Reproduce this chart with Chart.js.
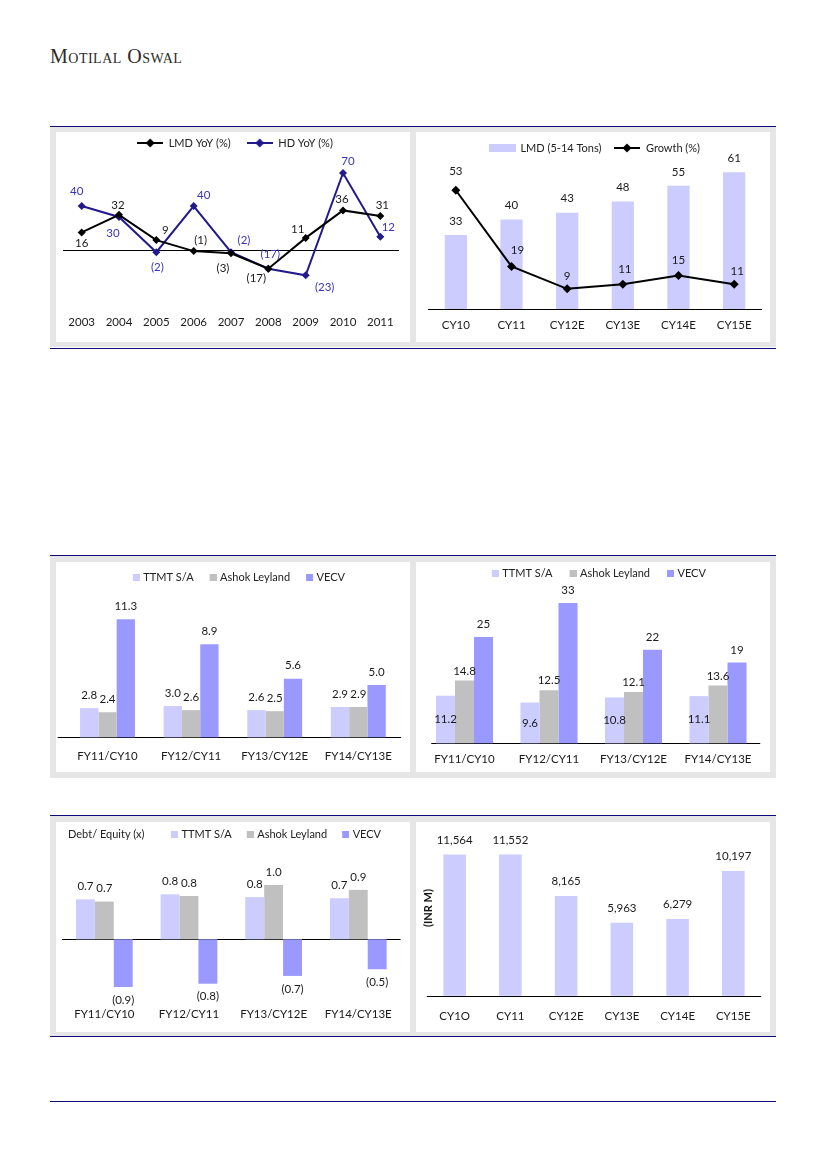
<!DOCTYPE html>
<html><head><meta charset="utf-8">
<script src="https://cdn.jsdelivr.net/npm/chart.js@4.4.1/dist/chart.umd.min.js"></script>
<style>
html,body{margin:0;padding:0;background:#fff;}
body{width:826px;height:1169px;position:relative;overflow:hidden;font-family:Lato,"Open Sans",sans-serif;}
.rule{position:absolute;left:50px;width:726px;height:1px;background:#0d0b7a;}
.panel{position:absolute;left:50px;width:726px;background:#e6e6e6;}
.box{position:absolute;background:#fff;width:354px;height:210px;}
canvas{position:absolute;}
.hdr{position:absolute;left:50px;top:46px;font-family:"Liberation Serif",serif;font-variant:small-caps;font-size:20px;line-height:20px;letter-spacing:0.5px;color:#2b2b2b;white-space:nowrap;}
.note{position:absolute;font-family:Lato,sans-serif;color:#222;white-space:nowrap;}
</style></head><body>
<div class="hdr">Motilal Oswal</div>

<div class="rule" style="top:126px"></div>
<div class="panel" style="top:127px;height:220px"></div>
<div class="box" style="left:56px;top:132px"></div>
<div class="box" style="left:416px;top:132px"></div>
<div class="rule" style="top:348px"></div>

<div class="rule" style="top:555px"></div>
<div class="panel" style="top:556px;height:222px"></div>
<div class="box" style="left:56px;top:562px"></div>
<div class="box" style="left:416px;top:562px"></div>

<div class="rule" style="top:815px"></div>
<div class="panel" style="top:816px;height:220px"></div>
<div class="box" style="left:56px;top:822px"></div>
<div class="box" style="left:416px;top:822px"></div>
<div class="rule" style="top:1036px"></div>

<div class="rule" style="top:1101px"></div>

<canvas id="c1" width="354" height="210" style="left:56px;top:132px"></canvas>
<canvas id="c2" width="354" height="210" style="left:416px;top:132px"></canvas>
<canvas id="c3" width="354" height="210" style="left:56px;top:562px"></canvas>
<canvas id="c4" width="354" height="210" style="left:416px;top:562px"></canvas>
<canvas id="c5" width="354" height="210" style="left:56px;top:822px"></canvas>
<canvas id="c6" width="354" height="210" style="left:416px;top:822px"></canvas>

<div class="note" style="left:68px;top:827px;font-size:11px;line-height:14px;">Debt/ Equity (x)</div>
<div class="note" style="left:428px;top:908px;font-size:11px;line-height:14px;font-weight:bold;color:#111;transform:translate(-50%,-50%) rotate(-90deg);">(INR M)</div>

<script>
// ---------------- DATA ----------------
const yearCats = ['2003','2004','2005','2006','2007','2008','2009','2010','2011'];
const lmdYoY = [16, 32, 9, -1, -3, -17, 11, 36, 31];
const hdYoY = [40, 30, -2, 40, -2, -17, -23, 70, 12];

const cyCats = ['CY10','CY11','CY12E','CY13E','CY14E','CY15E'];
const lmdVolume = [33, 40, 43, 48, 55, 61];
const lmdGrowth = [53, 19, 9, 11, 15, 11];

const fyCats = ['FY11/CY10','FY12/CY11','FY13/CY12E','FY14/CY13E'];
const c3TTMT = [2.8, 3.0, 2.6, 2.9];
const c3Ashok = [2.4, 2.6, 2.5, 2.9];
const c3VECV = [11.3, 8.9, 5.6, 5.0];

const c4TTMT = [11.2, 9.6, 10.8, 11.1];
const c4Ashok = [14.8, 12.5, 12.1, 13.6];
const c4VECV = [25, 33, 22, 19];

const deTTMT = [0.72, 0.81, 0.76, 0.74];
const deAshok = [0.68, 0.78, 0.98, 0.89];
const deVECV = [-0.86, -0.80, -0.66, -0.54];

const inrCats = ['CY1O','CY11','CY12E','CY13E','CY14E','CY15E'];
const inrValues = [11564, 11552, 8165, 5963, 6279, 10197];

// label offsets (layout only)
const lmdLblDx = [0, -1, 9, 7, -8, -12, -8, -1, 2];
const lmdLblDy = [11, -10, -10, -11, 15, 10, -9, -11, -11];
const hdLblDx = [-5, -6, 1, 10, 13, 2, 19, 5, 8];
const hdLblDy = [-15, 16, 15, -11, -12, -14, 12, -12, -10];
const growthLblDx = [0, 6, 0, 2, 0, 3];
const growthLblDy = [-19, -16, -13, -15, -15, -13];

// ---------------- STYLE ----------------
const C_TTMT = '#ccccff', C_ASHOK = '#c0c0c0', C_VECV = '#9999ff';
const C_HD = '#221a8c', C_HD_LBL = '#3a33b8';
const LBL_FONT = '11.5px Lato, "Open Sans", sans-serif';
Chart.defaults.font.family = 'Lato, "Open Sans", sans-serif';
Chart.defaults.color = '#1a1a1a';

const fmtParen = v => v < 0 ? '(' + Math.abs(v) + ')' : String(v);
const fmt1 = v => v < 0 ? '(' + Math.abs(v).toFixed(1) + ')' : v.toFixed(1);
const fmtComma = v => v.toLocaleString('en-US');

function lineMarkerImg(color) {
  const c = document.createElement('canvas'); c.width = 26; c.height = 10;
  const g = c.getContext('2d');
  g.strokeStyle = color; g.lineWidth = 2;
  g.beginPath(); g.moveTo(0, 5); g.lineTo(26, 5); g.stroke();
  g.fillStyle = color; g.beginPath();
  g.moveTo(13, 0.5); g.lineTo(17.5, 5); g.lineTo(13, 9.5); g.lineTo(8.5, 5); g.closePath(); g.fill();
  return c;
}
function boxImg(color, w, h, shift) {
  const c = document.createElement('canvas'); c.width = w + 2 * shift; c.height = h;
  const g = c.getContext('2d'); g.fillStyle = color; g.fillRect(2 * shift, 0, w, h);
  return c;
}

// ---------------- PLUGINS ----------------
const calib = {
  id: 'calib',
  afterLayout(chart, args, o) {
    if (o && o.zero != null) {
      const a = chart.chartArea, y = chart.scales.y;
      y.min = -(a.bottom - o.zero) / o.ppu;
      y.max = (o.zero - a.top) / o.ppu;
      y.configure();
    }
    const lg = chart.legend;
    if (lg && o && o.legendDx != null) {
      lg.left += o.legendDx; lg.right += o.legendDx;
      lg.top += o.legendDy; lg.bottom += o.legendDy;
    }
  }
};
const zeroLine = {
  id: 'zeroLine',
  beforeDatasetsDraw(chart, args, o) {
    if (!o || !o.show) return;
    const ctx = chart.ctx, a = chart.chartArea;
    const y = Math.round(chart.scales.y.getPixelForValue(0)) + 0.5;
    ctx.save(); ctx.strokeStyle = '#000'; ctx.lineWidth = 1;
    ctx.beginPath(); ctx.moveTo(a.left - (o.extL || 0), y); ctx.lineTo(a.right + (o.extR || 0), y); ctx.stroke();
    ctx.restore();
  }
};
const valueLabels = {
  id: 'valueLabels',
  afterDatasetsDraw(chart) {
    const ctx = chart.ctx;
    chart.data.datasets.forEach((ds, di) => {
      const L = ds.valueLabel; if (!L) return;
      const meta = chart.getDatasetMeta(di);
      ctx.save();
      ctx.font = L.font || LBL_FONT; ctx.fillStyle = L.color || '#1a1a1a';
      ctx.textAlign = 'center'; ctx.textBaseline = 'middle';
      meta.data.forEach((el, i) => {
        const v = ds.data[i];
        const dx = Array.isArray(L.dx) ? L.dx[i] : (L.dx || 0);
        const dy = Array.isArray(L.dy) ? L.dy[i] : (L.dy || 0);
        let y;
        if (L.mode === 'center') y = (el.y + el.base) / 2;
        else if (L.mode === 'end') y = v >= 0 ? el.y - L.gap : el.y + L.gap;
        else y = el.y + dy;
        ctx.fillText(L.fmt(v), el.x + dx, y);
      });
      ctx.restore();
    });
  }
};

function legendCfg(padding, pointW) {
  return {
    display: true, position: 'top',
    labels: {
      usePointStyle: true, pointStyleWidth: pointW, padding: padding, color: '#222',
      font: {size: 11},
      sort: (a, b) => a.datasetIndex - b.datasetIndex,
      generateLabels(chart) {
        const items = Chart.defaults.plugins.legend.labels.generateLabels(chart);
        items.forEach(it => { it.pointStyle = chart.data.datasets[it.datasetIndex].legendImg; });
        return items;
      }
    }
  };
}
function xAxis(offset) {
  return {offset: offset, grid: {display: false, drawTicks: false}, border: {display: false},
    ticks: {padding: 0, font: {size: 11.5}, color: '#1a1a1a', maxRotation: 0, autoSkip: false}};
}
function base(layoutPad, legend, cal, zl) {
  return {
    responsive: false, animation: false, devicePixelRatio: 1, events: [],
    layout: {padding: layoutPad},
    plugins: {legend: legend || {display: false}, tooltip: {enabled: false}, title: {display: false},
      calib: cal, zeroLine: zl},
  };
}
const PLUGINS = [calib, zeroLine, valueLabels];

// ---------------- CHART 1 ----------------
{
  const o = base({left: 7, right: 11, top: 0, bottom: 13},
    legendCfg(16, 26), {zero: 118, ppu: 1.1, legendDx: 4, legendDy: -10.5}, {show: true});
  o.scales = {x: xAxis(true), y: {display: false}};
  new Chart(document.getElementById('c1'), {
    type: 'line',
    data: {labels: yearCats, datasets: [
      {label: 'LMD YoY (%)', data: lmdYoY, borderColor: '#000', backgroundColor: '#000', borderWidth: 2,
       pointStyle: 'rectRot', pointRadius: 4, pointBackgroundColor: '#000', pointBorderColor: '#000', pointBorderWidth: 0,
       tension: 0, clip: false, legendImg: lineMarkerImg('#000'),
       valueLabel: {dx: lmdLblDx, dy: lmdLblDy, fmt: fmtParen, color: '#1a1a1a'}},
      {label: 'HD YoY (%)', data: hdYoY, borderColor: C_HD, backgroundColor: C_HD, borderWidth: 2,
       pointStyle: 'rectRot', pointRadius: 4, pointBackgroundColor: C_HD, pointBorderColor: C_HD, pointBorderWidth: 0,
       tension: 0, clip: false, legendImg: lineMarkerImg(C_HD),
       valueLabel: {dx: hdLblDx, dy: hdLblDy, fmt: fmtParen, color: C_HD_LBL}}
    ]},
    options: o, plugins: PLUGINS
  });
}

// ---------------- CHART 2 ----------------
{
  const o = base({left: 12, right: 8, top: 0, bottom: 10.1},
    legendCfg(12, 27), {zero: 177, ppu: 2.24, legendDx: -1, legendDy: -1.5}, {show: true, extL: 0, extR: 0});
  o.scales = {x: xAxis(true), y: {display: false}};
  new Chart(document.getElementById('c2'), {
    type: 'bar',
    data: {labels: cyCats, datasets: [
      {type: 'bar', label: 'LMD (5-14 Tons)', data: lmdVolume, backgroundColor: C_TTMT, borderWidth: 0,
       barPercentage: 0.4, categoryPercentage: 1, order: 1, clip: false,
       legendImg: boxImg(C_TTMT, 27, 8, 1),
       valueLabel: {mode: 'end', gap: 14, fmt: fmtParen}},
      {type: 'line', label: 'Growth (%)', data: lmdGrowth, borderColor: '#000', backgroundColor: '#000', borderWidth: 2,
       pointStyle: 'rectRot', pointRadius: 4.5, pointBackgroundColor: '#000', pointBorderColor: '#000', pointBorderWidth: 0,
       tension: 0, order: 0, clip: false, legendImg: lineMarkerImg('#000'),
       valueLabel: {dx: growthLblDx, dy: growthLblDy, fmt: fmtParen}}
    ]},
    options: o, plugins: PLUGINS
  });
}

// ---------------- CHART 3 ----------------
{
  const o = base({left: 9.7, right: 9.9, top: 0, bottom: 8.4},
    legendCfg(14, 7), {zero: 175.3, ppu: 10.45, legendDx: 5, legendDy: -3.8}, {show: true, extL: 8, extR: 1});
  o.scales = {x: xAxis(true), y: {display: false}};
  const bp = {barPercentage: 1, categoryPercentage: 0.657, borderWidth: 0, clip: false};
  new Chart(document.getElementById('c3'), {
    type: 'bar',
    data: {labels: fyCats, datasets: [
      Object.assign({label: 'TTMT S/A', data: c3TTMT, backgroundColor: C_TTMT, legendImg: boxImg(C_TTMT, 7, 7, 2),
        valueLabel: {mode: 'end', gap: 13, fmt: fmt1}}, bp),
      Object.assign({label: 'Ashok Leyland', data: c3Ashok, backgroundColor: C_ASHOK, legendImg: boxImg(C_ASHOK, 7, 7, 2),
        valueLabel: {mode: 'end', gap: 13, fmt: fmt1}}, bp),
      Object.assign({label: 'VECV', data: c3VECV, backgroundColor: C_VECV, legendImg: boxImg(C_VECV, 7, 7, 2),
        valueLabel: {mode: 'end', gap: 13, fmt: fmt1}}, bp)
    ]},
    options: o, plugins: PLUGINS
  });
}

// ---------------- CHART 4 ----------------
{
  const o = base({left: 6.25, right: 9.75, top: 0, bottom: 6.1},
    legendCfg(15, 7), {zero: 181.3, ppu: 4.25, legendDx: 6.6, legendDy: -9.2}, {show: true, extL: -9, extR: 0});
  o.scales = {x: xAxis(true), y: {display: false}};
  const bp = {barPercentage: 1, categoryPercentage: 0.675, borderWidth: 0, clip: false};
  new Chart(document.getElementById('c4'), {
    type: 'bar',
    data: {labels: fyCats, datasets: [
      Object.assign({label: 'TTMT S/A', data: c4TTMT, backgroundColor: C_TTMT, legendImg: boxImg(C_TTMT, 7, 7, 2),
        valueLabel: {mode: 'center', fmt: fmt1}}, bp),
      Object.assign({label: 'Ashok Leyland', data: c4Ashok, backgroundColor: C_ASHOK, legendImg: boxImg(C_ASHOK, 7, 7, 2),
        valueLabel: {mode: 'end', gap: 9.5, fmt: fmt1}}, bp),
      Object.assign({label: 'VECV', data: c4VECV, backgroundColor: C_VECV, legendImg: boxImg(C_VECV, 7, 7, 2),
        valueLabel: {mode: 'end', gap: 12.5, fmt: fmtParen}}, bp)
    ]},
    options: o, plugins: PLUGINS
  });
}

// ---------------- CHART 5 ----------------
{
  const o = base({left: 6, right: 9.4, top: 0, bottom: 11.1},
    legendCfg(13, 7), {zero: 117.3, ppu: 55.5, legendDx: 43.7, legendDy: -6.2}, {show: true, extL: 0, extR: 0});
  o.scales = {x: xAxis(true), y: {display: false}};
  const bp = {barPercentage: 1, categoryPercentage: 0.67, borderWidth: 0, clip: false};
  new Chart(document.getElementById('c5'), {
    type: 'bar',
    data: {labels: fyCats, datasets: [
      Object.assign({label: 'TTMT S/A', data: deTTMT, backgroundColor: C_TTMT, legendImg: boxImg(C_TTMT, 7, 7, 2),
        valueLabel: {mode: 'end', gap: 13, fmt: fmt1}}, bp),
      Object.assign({label: 'Ashok Leyland', data: deAshok, backgroundColor: C_ASHOK, legendImg: boxImg(C_ASHOK, 7, 7, 2),
        valueLabel: {mode: 'end', gap: 13, fmt: fmt1}}, bp),
      Object.assign({label: 'VECV', data: deVECV, backgroundColor: C_VECV, legendImg: boxImg(C_VECV, 7, 7, 2),
        valueLabel: {mode: 'end', gap: 13, fmt: fmt1}}, bp)
    ]},
    options: o, plugins: PLUGINS
  });
}

// ---------------- CHART 6 ----------------
{
  const o = base({left: 10.8, right: 8.8, top: 20, bottom: 8.4},
    {display: false}, {zero: 173.7, ppu: 0.01222}, {show: true, extL: 0, extR: 0});
  o.scales = {x: xAxis(true), y: {display: false}};
  new Chart(document.getElementById('c6'), {
    type: 'bar',
    data: {labels: inrCats, datasets: [
      {label: 'INR M', data: inrValues, backgroundColor: C_TTMT, borderWidth: 0,
       barPercentage: 0.405, categoryPercentage: 1, clip: false,
       valueLabel: {mode: 'end', gap: 14.5, fmt: fmtComma}}
    ]},
    options: o, plugins: PLUGINS
  });
}
</script>
</body></html>
